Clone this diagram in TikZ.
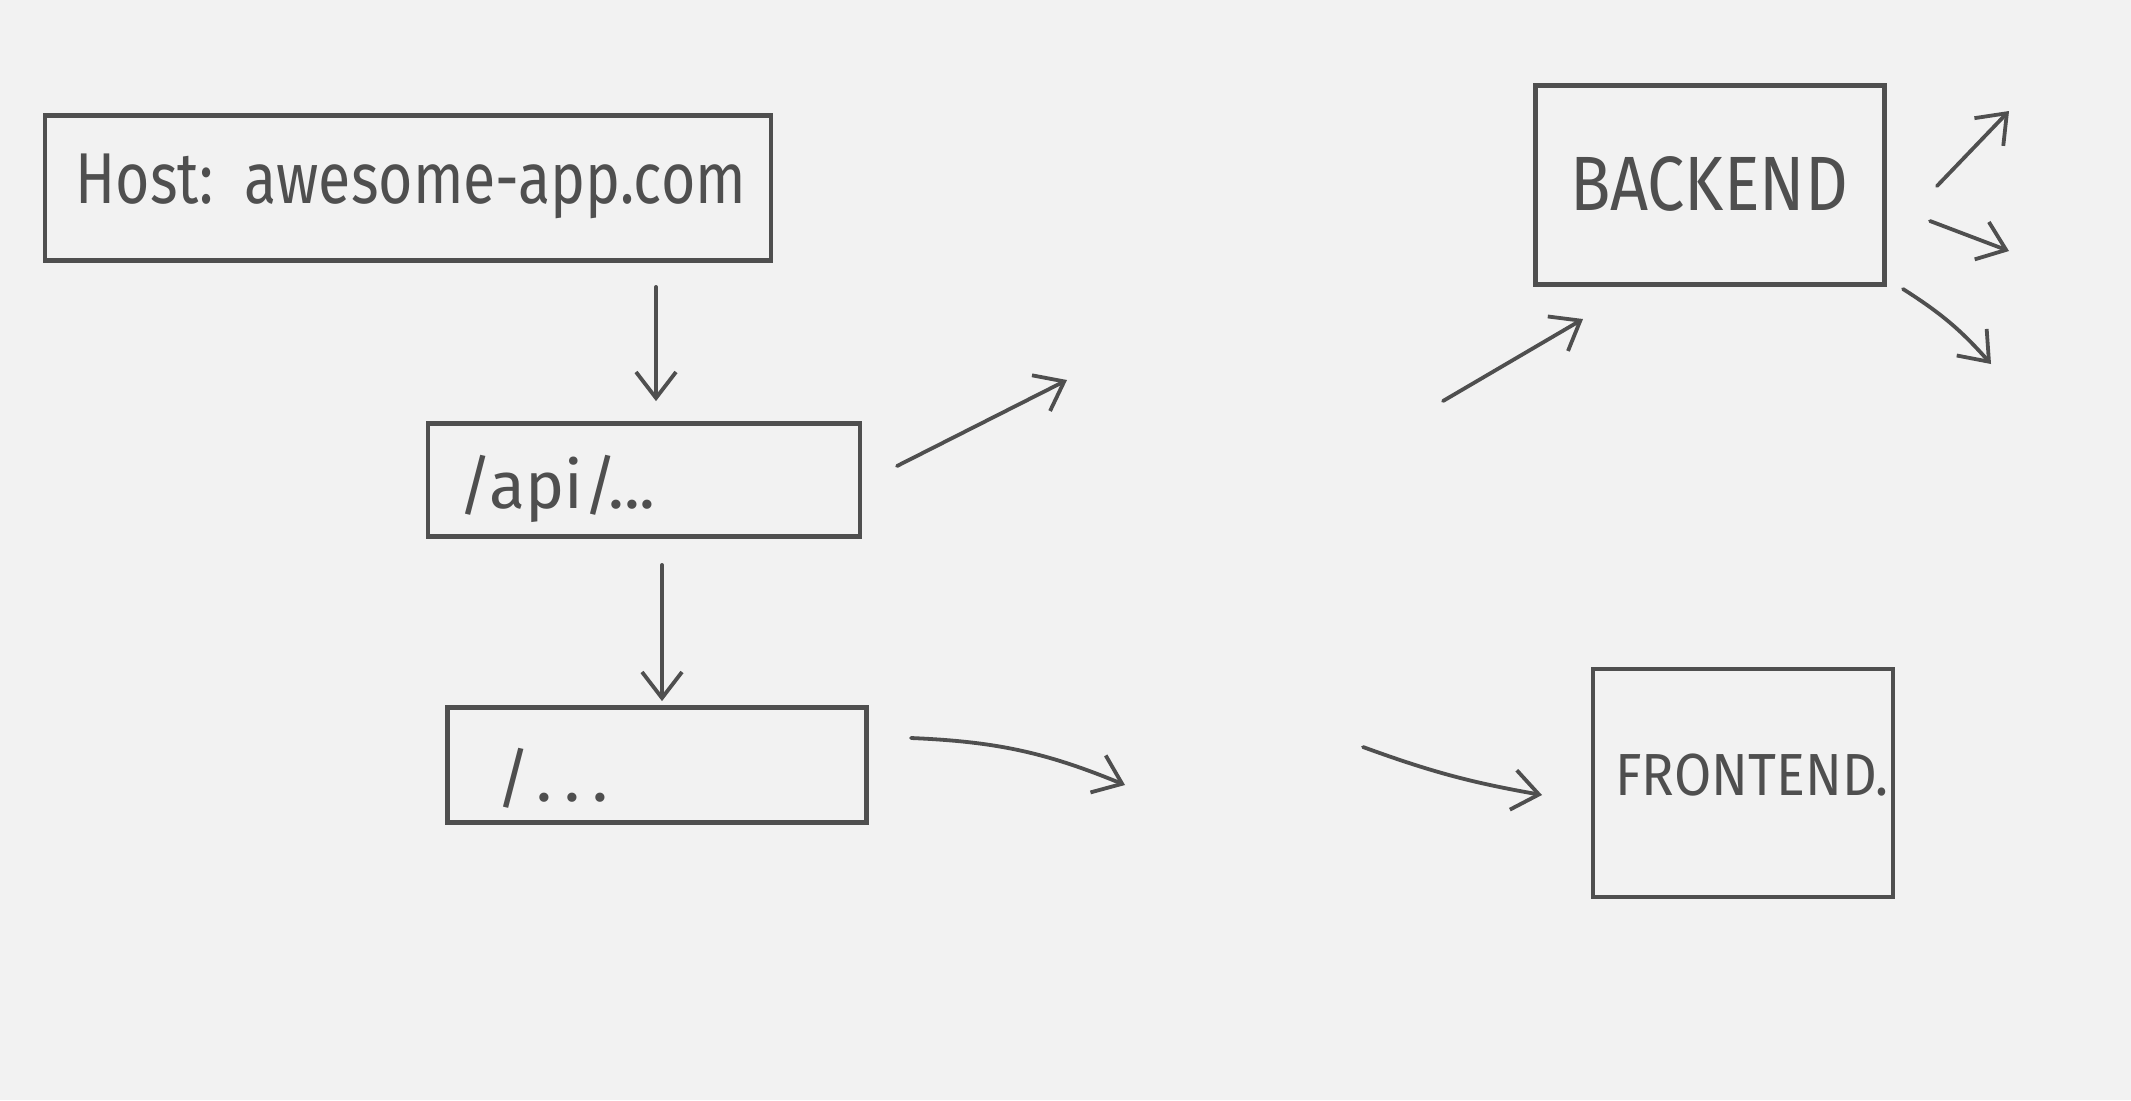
\documentclass[tikz,border=0pt]{standalone}
\usepackage{fontspec}
\setmainfont{Fira Sans}
\usetikzlibrary{arrows.meta}
\definecolor{paper}{HTML}{F2F2F2}
\definecolor{ink}{HTML}{4F4F4F}
\tikzset{
  box/.style={draw=ink, line width=2.4pt, inner sep=0pt, text=ink},
  lbl/.style={text=ink, inner sep=0pt},
  conn/.style={draw=ink, line width=1.9pt, line cap=round,
    -{Straight Barb[length=13pt, width=20pt, line width=1.9pt]}},
}
\begin{document}
\begin{tikzpicture}[x=0.5pt, y=-0.5pt]
\fill[paper] (0,0) rectangle (2131,1100);
\useasboundingbox (0,0) rectangle (2131,1100);

% boxes
\node[box, minimum width=363pt, minimum height=72.5pt] (host) at (408,188) {};
\node[box, minimum width=216pt, minimum height=56.5pt] (api) at (644,480) {};
\node[box, minimum width=209.5pt, minimum height=57.5pt] (root) at (657,765) {};
\node[box, minimum width=174.5pt, minimum height=99.5pt] (backend) at (1710,185) {};
\node[box, minimum width=150pt, minimum height=114pt] (frontend) at (1743,783) {};

% labels
\node[lbl, anchor=west, font=\fontsize{36}{42}\selectfont] (hostt) at (75,186) {\scalebox{0.82}[1]{Host:\ \ awesome-app.com}};
\node[lbl, anchor=west, font=\fontsize{33}{38}\selectfont] (apit) at (458,489) {/api/...};
\node[lbl, anchor=west, font=\fontsize{33}{38}\selectfont] (roott) at (496,778) {/\kern3pt.\kern6pt.\kern6pt.};
\node[lbl, font=\fontsize{35}{40}\selectfont] (backt) at (1709,184) {\scalebox{0.95}[1.1]{BACKEND}};
\node[lbl, font=\fontsize{27}{34}\selectfont] (frontt) at (1752,775) {\scalebox{1}[1.1]{FRONTEND.}};

% free ends
\coordinate (a1) at (897,466);
\coordinate (a2) at (1067,380);
\coordinate (b1) at (1443,401);
\coordinate (b2) at (1583,319);
\coordinate (c1) at (1937,186);
\coordinate (c2) at (2009,111);
\coordinate (d1) at (1930,221);
\coordinate (d2) at (2009,251);
\coordinate (e1) at (1903,289);
\coordinate (e2) at (1991,364);
\coordinate (f1) at (911,738);
\coordinate (f2) at (1125,785);
\coordinate (g1) at (1363,747);
\coordinate (g2) at (1542,795);

% connectors
\draw[conn, shorten <=12pt, shorten >=10pt] (host.south -| 656,0) -- (api.north -| 656,0);
\draw[conn, shorten <=13pt, shorten >=2pt] (api.south -| 662,0) -- (root.north -| 662,0);
\draw[conn] (a1) -- (a2);
\draw[conn] (b1) -- (b2);
\draw[conn] (c1) -- (c2);
\draw[conn] (d1) -- (d2);
\draw[conn] (e1) to[bend left=8] (e2);
\draw[conn] (f1) to[bend left=10] (f2);
\draw[conn] (g1) to[bend right=5] (g2);
\end{tikzpicture}
\end{document}
